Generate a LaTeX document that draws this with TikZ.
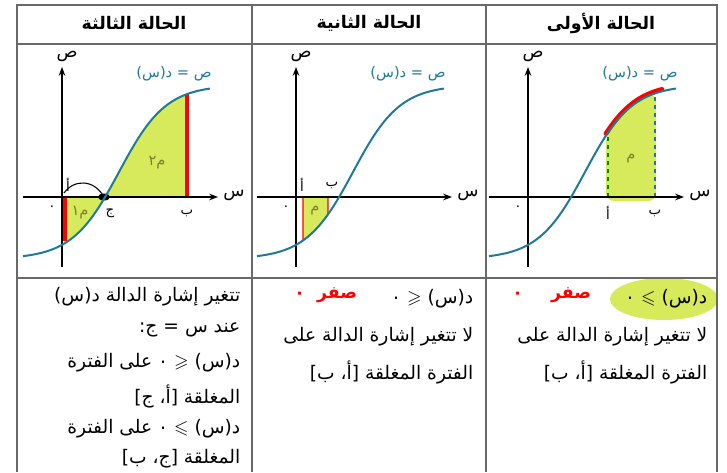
\documentclass[tikz,border=0pt]{standalone}
\usepackage{amssymb}
\usepackage{fontspec}
\usetikzlibrary{arrows.meta,positioning,calc}
\TeXXeTstate=1
\newfontfamily\arabicfont[Script=Arabic]{DejaVu Sans}
\definecolor{curveblue}{RGB}{30,122,150}
\definecolor{hilite}{RGB}{214,234,92}
\definecolor{rulegray}{RGB}{105,105,105}
\definecolor{olive}{RGB}{125,125,45}
\newcommand{\ar}[1]{\arabicfont\beginR #1\endR}
\pgfmathdeclarefunction{sig}{1}{\pgfmathparse{-62+174/(1+exp(-(#1-57)/23.5))}}

\begin{document}
\begin{tikzpicture}[x=0.75pt, y=-0.75pt, >=Stealth,
    cell/.style={draw=rulegray, line width=0.9pt},
    head/.style={font=\arabicfont\bfseries\fontsize{13}{15}\selectfont},
    txt/.style={anchor=east, font=\arabicfont\fontsize{14}{16}\selectfont},
    lbl/.style={font=\arabicfont\fontsize{10}{12}\selectfont},
    axlbl/.style={font=\arabicfont\fontsize{13}{15}\selectfont},
    fnlbl/.style={font=\arabicfont\fontsize{11}{13}\selectfont, text=curveblue},
    area/.style={font=\arabicfont\fontsize{11}{13}\selectfont, text=olive},
    scrawl/.style={font=\arabicfont\bfseries\fontsize{13}{15}\selectfont, text=red}]
\useasboundingbox (0,0) rectangle (727,472);

% yellow marker behind the first statement
\fill[hilite] (664,299) ellipse (54 and 21);

% table
\draw[cell] (17,472) -- (17,5) -- (717,5) -- (717,472);
\draw[cell] (252,5) -- (252,472);
\draw[cell] (486,5) -- (486,472);
\draw[cell] (17,44) -- (717,44);
\draw[cell] (17,278) -- (717,278);

% headers
\node[head] (h1) at (601,23) {\ar{الحالة الأولى}};
\node[head] (h2) at (369,23) {\ar{الحالة الثانية}};
\node[head] (h3) at (134,23) {\ar{الحالة الثالثة}};

% case 1
\begin{scope}[shift={(528,197)}, yscale=-1]
  \fill[hilite, rounded corners=6pt] (78,-4) -- plot[domain=78:128] (\x,{sig(\x)}) -- (128,-4) -- cycle;
  \draw[dashed, thick, green!55!black] (80,0) -- (80,{sig(80)});
  \draw[dashed, thick, curveblue] (127,0) -- (127,{sig(127)});
  \draw[red, line width=3.5pt, line cap=round] plot[domain=78:134] (\x,{sig(\x)+2});
  \node[area] (m1) at (103,38) {\ar{م}};
  \node[lbl] (a1) at (80,-16) {\ar{أ}};
  \node[lbl] (b1) at (127,-16) {\ar{ب}};
\end{scope}

% case 2
\begin{scope}[shift={(296,197)}, yscale=-1]
  \filldraw[fill=hilite, draw=red, thick] (7,0) -- plot[domain=7:32] (\x,{sig(\x)}) -- (32,0) -- cycle;
  \node[area] (m2) at (19,-14) {\ar{م}};
  \node[lbl] (a2) at (6,12) {\ar{أ}};
  \node[lbl] (b2) at (36,12) {\ar{ب}};
\end{scope}

% case 3
\begin{scope}[shift={(62,197)}, yscale=-1]
  \fill[hilite] (2,0) -- plot[domain=2:43.1] (\x,{sig(\x)}) -- cycle;
  \fill[hilite] (43.1,0) -- plot[domain=43.1:125] (\x,{sig(\x)}) -- (125,0) -- cycle;
  \draw[red, line width=3.5pt] (3,0) -- (3,{sig(3)+2});
  \draw[red, line width=3.5pt] (125,0) -- (125,{sig(125)});
  \node[area] (m31) at (18,-16) {\ar{م١}};
  \node[area] (m32) at (95,34) {\ar{م٢}};
  \node[lbl] (a3) at (6,12) {\ar{أ}};
  \node[lbl] (c3) at (48,-16) {\ar{ج}};
  \node[lbl] (b3) at (125,-16) {\ar{ب}};
  \coordinate (hk1) at (2,4);
  \coordinate (hk2) at (42,0);
  \draw[thick] (hk1) .. controls (12,18) and (32,18) .. (hk2);
  \fill (hk2) ellipse (6 and 3.5);
\end{scope}

% axes and curves
\foreach \ox/\n in {62/3,296/2,528/1}{
  \begin{scope}[shift={(\ox,197)}, yscale=-1]
    \draw[->, thick] (-39,0) -- (156,0);
    \draw[->, thick] (0,-70) -- (0,130);
    \draw[curveblue, line width=1.5pt] plot[domain=-39:148, samples=90] (\x,{sig(\x)});
    \node[axlbl] (x\n) at (172,2) {\ar{س}};
    \node[axlbl] (y\n) at (5,141) {\ar{ص}};
    \node[lbl] (o\n) at (-10,-11) {\ar{٠}};
    \node[fnlbl] (f\n) at (112,123) {\ar{ص = د(س)}};
  \end{scope}
}

% case 1 text
\node[txt] (s11) at (712,299) {\ar{د(س) \mbox{$\leqslant$} ٠}};
\node[txt] (s12) at (712,337) {\ar{لا تتغير إشارة الدالة على}};
\node[txt] (s13) at (712,372) {\ar{الفترة المغلقة [أ، ب]}};
\node[scrawl] (r1) at (571,295) {\ar{صفر}};
\node[scrawl, left=14pt of r1] (r1d) {\ar{٠}};

% case 2 text
\node[txt] (s21) at (478,299) {\ar{د(س) \mbox{$\geqslant$} ٠}};
\node[txt] (s22) at (478,337) {\ar{لا تتغير إشارة الدالة على}};
\node[txt] (s23) at (478,372) {\ar{الفترة المغلقة [أ، ب]}};
\node[scrawl] (r2) at (337,295) {\ar{صفر}};
\node[scrawl, left=2pt of r2] (r2d) {\ar{٠}};

% case 3 text
\node[txt] (s31) at (245,297) {\ar{تتغير إشارة الدالة د(س)}};
\node[txt] (s32) at (245,330) {\ar{عند س = ج:}};
\node[txt] (s33) at (245,363) {\ar{د(س) \mbox{$\geqslant$} ٠ على الفترة}};
\node[txt] (s34) at (245,396) {\ar{المغلقة [أ، ج]}};
\node[txt] (s35) at (245,429) {\ar{د(س) \mbox{$\leqslant$} ٠ على الفترة}};
\node[txt] (s36) at (245,459) {\ar{المغلقة [ج، ب]}};
\end{tikzpicture}
\end{document}
